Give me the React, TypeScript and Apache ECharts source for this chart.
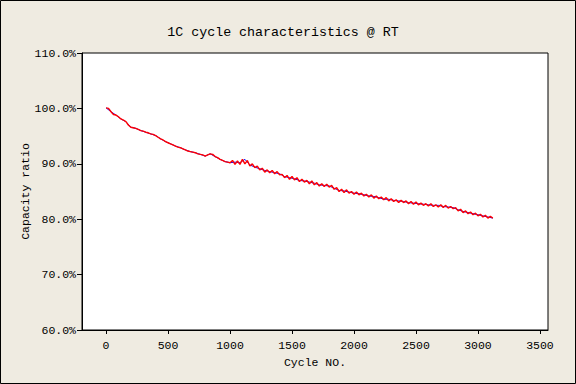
import React, { useEffect, useRef } from "react";
import * as echarts from "echarts";

const TITLE = "1C cycle characteristics @ RT";
const X_NAME = "Cycle NO.";
const Y_NAME = "Capacity ratio";
const X_TICKS = [0, 500, 1000, 1500, 2000, 2500, 3000, 3500];
const Y_TICKS = [60, 70, 80, 90, 100, 110];

// red series: one reading every 20 cycles, starting at cycle 0
const RED_STEP = 20;
const redValues = [
  100.1, 100.0, 99.4, 98.9, 98.8, 98.5, 98.1, 97.9, 97.6, 97.0,
  96.6, 96.5, 96.4, 96.2, 96.0, 95.9, 95.7, 95.6, 95.4, 95.3,
  95.1, 94.8, 94.5, 94.3, 94.0, 93.8, 93.6, 93.4, 93.2, 93.0,
  92.9, 92.7, 92.5, 92.3, 92.2, 92.1, 92.0, 91.8, 91.7, 91.6,
  91.4, 91.6, 91.8, 91.7, 91.3, 91.1, 90.8, 90.6, 90.4, 90.3,
  90.2, 90.6, 89.9, 90.5, 89.9, 90.8, 90.0, 90.6, 89.6, 90.0,
  89.3, 89.6, 88.9, 89.2, 88.5, 88.9, 88.4, 88.8, 88.2, 88.6,
  88.0, 88.1, 87.5, 87.9, 87.2, 87.7, 87.1, 87.5, 86.8, 87.2,
  86.7, 87.0, 86.4, 86.9, 86.2, 86.6, 86.0, 86.4, 85.9, 86.3,
  85.8, 86.1, 85.4, 85.7, 85.0, 85.4, 84.8, 85.3, 84.7, 85.0,
  84.5, 84.9, 84.4, 84.7, 84.2, 84.5, 84.0, 84.4, 83.8, 84.2,
  83.7, 84.0, 83.5, 83.9, 83.3, 83.7, 83.2, 83.5, 83.0, 83.4,
  83.0, 83.3, 82.8, 83.2, 82.7, 83.1, 82.6, 82.9, 82.5, 82.8,
  82.4, 82.8, 82.3, 82.6, 82.2, 82.6, 82.1, 82.5, 82.0, 82.3,
  81.9, 82.1, 81.5, 81.8, 81.2, 81.5, 81.0, 81.3, 80.8, 81.1,
  80.6, 80.9, 80.4, 80.7, 80.2, 80.5, 80.2,
];

// blue series: one reading every 40 cycles, starting at cycle 0
const BLUE_STEP = 40;
const blueValues = [
  100.1, 99.4, 98.8, 98.1, 97.6, 96.6, 96.4, 96.0, 95.7, 95.4,
  95.1, 94.5, 94.0, 93.6, 93.2, 92.9, 92.5, 92.2, 92.0, 91.7,
  91.4, 91.8, 91.3, 90.8, 90.4, 90.2, 90.3, 90.2, 90.8, 89.8,
  89.4, 89.1, 88.8, 88.6, 88.4, 88.2, 87.7, 87.5, 87.3, 87.0,
  86.9, 86.7, 86.5, 86.2, 86.1, 86.0, 85.6, 85.2, 85.1, 84.9,
  84.7, 84.6, 84.4, 84.2, 84.1, 83.9, 83.6, 83.6, 83.4, 83.3,
  83.2, 83.0, 82.9, 82.8, 82.7, 82.6, 82.5, 82.5, 82.3, 82.2,
  82.1, 81.7, 81.4, 81.2, 81.0, 80.8, 80.6, 80.4, 80.2,
];

const FONT = '"Liberation Mono", "DejaVu Sans Mono", monospace';

export default function App() {
  const ref = useRef<HTMLDivElement>(null);
  useEffect(() => {
    if (!ref.current) return;
    const chart = echarts.init(ref.current, null, { renderer: "svg" });
    const red = redValues.map((v, i) => [i * RED_STEP, v]);
    const blue = blueValues.map((v, i) => [i * BLUE_STEP, v]);
    chart.setOption({
      animation: false,
      backgroundColor: "#EFEBE1",
      graphic: [
        {
          type: "rect",
          shape: { x: 0.5, y: 0.5, width: 575, height: 383 },
          style: { fill: "none", stroke: "#000", lineWidth: 1 },
          silent: true,
        },
        {
          type: "text",
          x: 283,
          y: 32,
          style: {
            text: TITLE,
            fill: "#000",
            font: `13.3px ${FONT}`,
            align: "center",
            verticalAlign: "middle",
          },
        },
      ],
      grid: {
        left: 82,
        top: 53,
        width: 466,
        height: 277,
        show: true,
        backgroundColor: "#fff",
        borderColor: "#000",
        borderWidth: 1,
      },
      xAxis: {
        type: "value",
        min: -194,
        max: 3565,
        name: X_NAME,
        nameLocation: "middle",
        nameGap: 26,
        nameMoveOverlap: false,
        nameTextStyle: { color: "#000", fontFamily: FONT, fontSize: 11.5 },
        axisLine: { show: true, onZero: false, lineStyle: { color: "#000", width: 1 } },
        axisTick: {
          show: true,
          length: 4,
          inside: false,
          customValues: X_TICKS,
          lineStyle: { color: "#000" },
        },
        axisLabel: {
          customValues: X_TICKS,
          color: "#000",
          fontFamily: FONT,
          fontSize: 11.5,
          margin: 9,
          formatter: (v: number) => String(v),
        },
        splitLine: { show: false },
      },
      yAxis: {
        type: "value",
        min: 60,
        max: 110,
        interval: 10,
        name: Y_NAME,
        nameLocation: "middle",
        nameGap: 51,
        nameMoveOverlap: false,
        nameRotate: 90,
        nameTextStyle: { color: "#000", fontFamily: FONT, fontSize: 11.5 },
        axisLine: { show: true, onZero: false, lineStyle: { color: "#000", width: 1 } },
        axisTick: {
          show: true,
          length: 5,
          inside: false,
          customValues: Y_TICKS,
          lineStyle: { color: "#000" },
        },
        axisLabel: {
          color: "#000",
          fontFamily: FONT,
          fontSize: 11.5,
          margin: 6,
          formatter: (v: number) => v.toFixed(1) + "%",
        },
        splitLine: { show: false },
      },
      series: [
        {
          type: "line",
          data: blue,
          showSymbol: false,
          symbol: "none",
          lineStyle: { color: "#0000FF", width: 1 },
          z: 2,
        },
        {
          type: "line",
          data: red,
          showSymbol: false,
          symbol: "none",
          lineStyle: { color: "#FF0000", width: 1.4 },
          z: 3,
        },
      ],
    });
    return () => chart.dispose();
  }, []);
  return (
    <div
      ref={ref}
      style={{ position: "fixed", left: 0, top: 0, width: 576, height: 384 }}
    />
  );
}
